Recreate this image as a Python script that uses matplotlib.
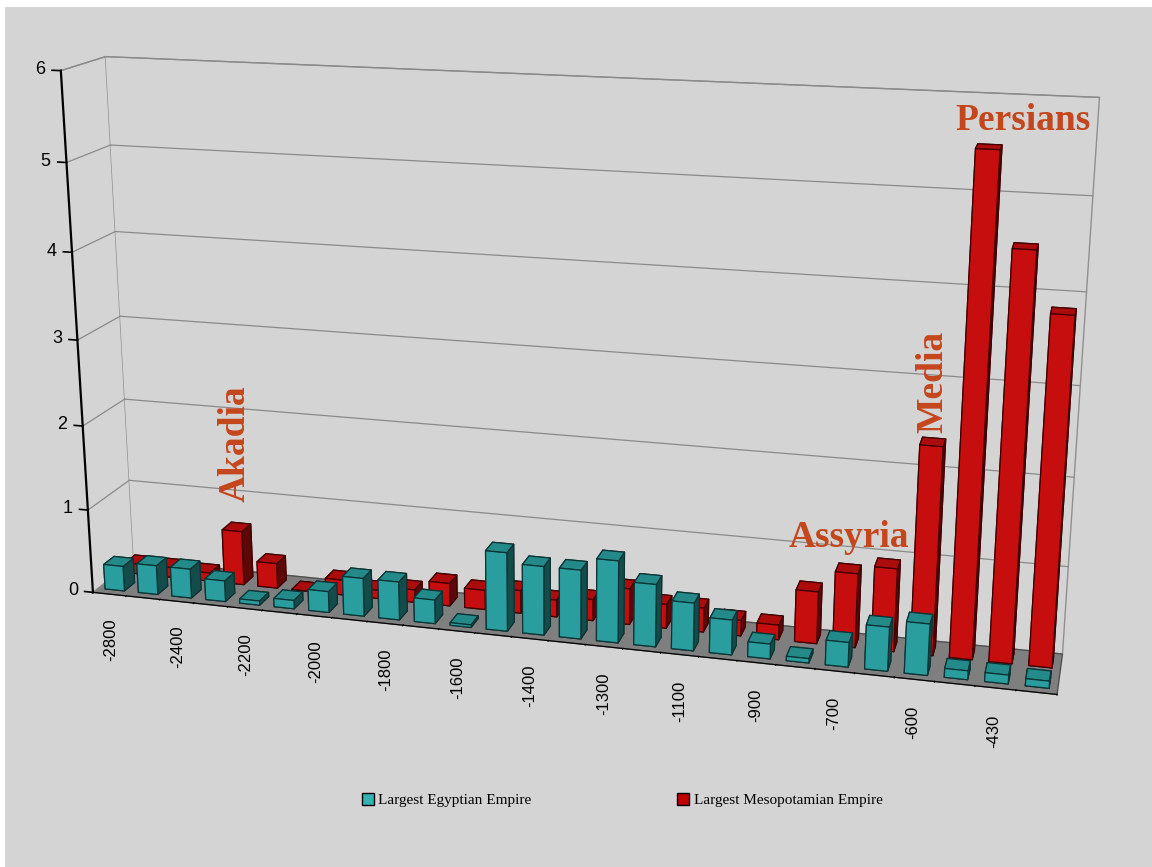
import matplotlib
matplotlib.use('Agg')
import matplotlib.pyplot as plt
import numpy as np
from matplotlib.patches import Patch, Rectangle
from mpl_toolkits.mplot3d import proj3d

# ---- data ----
years = ['-2800', '-2600', '-2400', '-2300', '-2200', '-2100', '-2000', '-1900',
         '-1800', '-1700', '-1600', '-1500', '-1400', '-1350', '-1300', '-1200',
         '-1100', '-1000', '-900', '-800', '-700', '-650', '-600', '-500',
         '-430', '-330']
egypt = [0.30, 0.35, 0.35, 0.25, 0.05, 0.10, 0.25, 0.45, 0.45, 0.28, 0.03, 0.92,
         0.80, 0.80, 0.95, 0.72, 0.55, 0.40, 0.17, 0.05, 0.28, 0.50, 0.58, 0.10,
         0.10, 0.08]
meso = [0.12, 0.12, 0.10, 0.65, 0.30, 0.00, 0.18, 0.10, 0.15, 0.27, 0.23, 0.27,
        0.20, 0.25, 0.42, 0.28, 0.28, 0.18, 0.17, 0.60, 0.85, 0.95, 2.35, 5.50,
        4.50, 3.85]
series_names = ['Largest Egyptian Empire', 'Largest Mesopotamian Empire']
ann_text = ['Akadia', 'Assyria', 'Media', 'Persians']
ann_cat = [3, 20, 22, 23.8]
ann_z = [0.95, 1.0, 2.45, 5.6]
ann_vertical = [True, False, True, False]
label_every = 2
yticks = [0, 1, 2, 3, 4, 5, 6]

# ---- style ----
BG = '#d4d4d4'
TEAL = '#2fb3b3'
RED = '#e01010'
TXT = '#c4461c'
plt.rcParams['font.family'] = ['Liberation Serif', 'DejaVu Serif']
TICKFONT = ['Liberation Sans', 'DejaVu Sans']

fig = plt.figure(figsize=(11.52, 8.67), dpi=100, facecolor='white')
fig.patches.append(Rectangle((0.004, 0.0), 0.996, 0.992, transform=fig.transFigure,
                             facecolor=BG, edgecolor='none', zorder=-10))

ax = fig.add_axes([0.0274, 0.0894, 0.9, 0.96], projection='3d')
ax.set_facecolor((0, 0, 0, 0))
ax.set_proj_type('persp', focal_length=0.5)
ax.view_init(elev=16, azim=-75)
n = len(years)
ax.set_xlim(0, n)
ax.set_ylim(0, 2)
ax.set_zlim(0, 6)
ax.set_box_aspect((11.1, 1.1, 6.15), zoom=1.352)


def label_at(x, y, z, s, **kw):
    """Place a 2D text at the projected position of a 3D point."""
    x2, y2, _ = proj3d.proj_transform(x, y, z, ax.get_proj())
    return ax.text2D(x2, y2, s, transform=ax.transData, **kw)


# panes
ax.xaxis.set_pane_color(BG)
ax.yaxis.set_pane_color(BG)
ax.zaxis.set_pane_color('#7f7f7f')
ax.xaxis.pane.set_edgecolor('#909090')
ax.yaxis.pane.set_edgecolor('#909090')
ax.zaxis.pane.set_edgecolor('#505050')
ax.grid(False)

# gridlines on walls
for v in yticks[1:]:
    ax.plot([0, n], [2, 2], [v, v], color='#8a8a8a', lw=0.9, clip_on=False)
    ax.plot([0, 0], [0, 2], [v, v], color='#8a8a8a', lw=0.9, clip_on=False)

# bars
bw, bd = 0.58, 0.5
xs = np.arange(n) + 0.5 - bw / 2
x_all = np.concatenate([xs, xs])
y_all = np.concatenate([np.full(n, 0.5 - bd / 2), np.full(n, 1.5 - bd / 2)])
dz = np.concatenate([np.array(egypt), np.array(meso)])
cols = [TEAL] * n + [RED] * n
edges = ['#0c3434'] * (6 * n) + ['#400000'] * (6 * n)
bars = ax.bar3d(x_all, y_all, np.zeros(2 * n), bw, bd, dz, color=cols, shade=True,
                edgecolor=edges, linewidth=0.9)
bars.set_clip_on(False)

# x axis ticks (category boundaries), labels every other category
ax.set_xticks(np.arange(0, n + 1))
ax.set_xticklabels([])
ax.xaxis.line.set_color('black')
ax.set_yticks([])
ax.yaxis.line.set_color((0, 0, 0, 0))
ax.set_zticks([])
ax.zaxis.line.set_color((0, 0, 0, 0))

for i in range(0, n, label_every):
    label_at(i + 0.5, 0.0, -0.3, years[i], rotation=90, ha='center', va='top',
             fontsize=12, family=TICKFONT)

# value axis on the front-left edge
ax.plot([0, 0], [0, 0], [0, 6], color='black', lw=1.6, clip_on=False)
for v in yticks:
    ax.plot([0, -0.25], [0, 0], [v, v], color='black', lw=1.2, clip_on=False)
    label_at(-0.45, 0, v, str(v), ha='right', va='center', fontsize=13,
             family=TICKFONT)

for name, xc, zc, vert in zip(ann_text, ann_cat, ann_z, ann_vertical):
    label_at(xc + 0.5, 1.5, zc, name, rotation=90 if vert else 0, ha='center',
             va='bottom', fontsize=27, fontweight='bold', color=TXT)

handles = [Patch(facecolor=TEAL, edgecolor='black'), Patch(facecolor='#c00000', edgecolor='black')]
fig.legend(handles, series_names, loc='center', bbox_to_anchor=(0.54, 0.077), ncol=2,
           frameon=False, columnspacing=9.5, handlelength=0.8, handleheight=0.8,
           handletextpad=0.3, fontsize=11)

fig.savefig('out.png', dpi=100, facecolor=fig.get_facecolor())
